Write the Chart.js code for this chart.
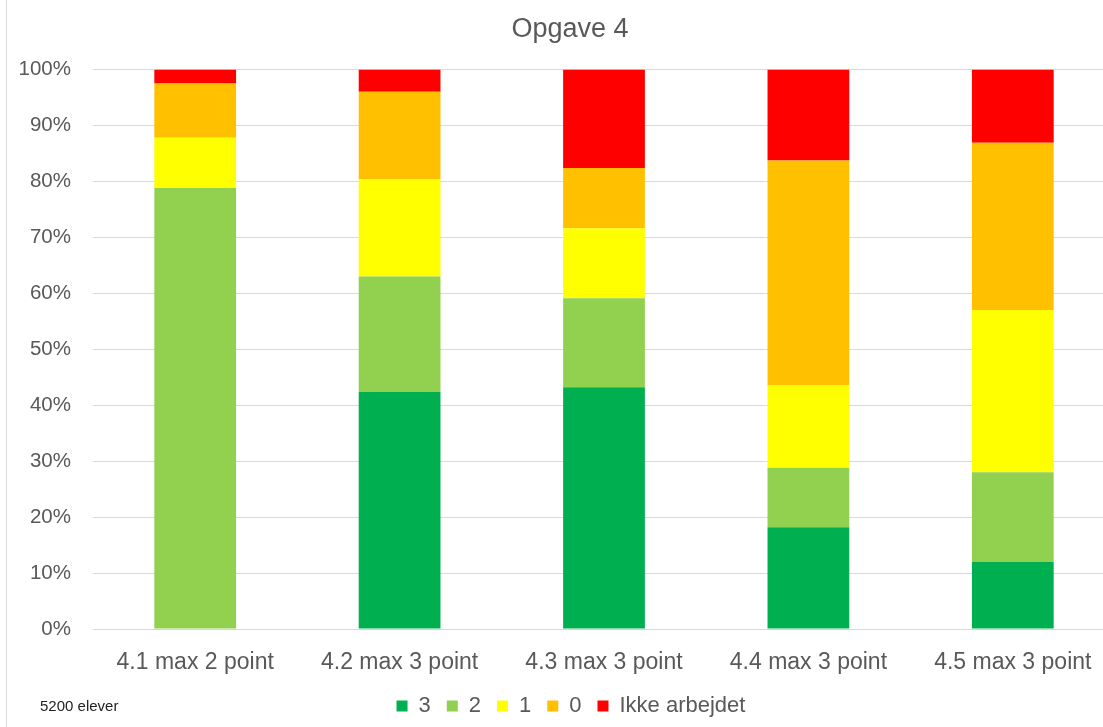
<!DOCTYPE html>
<html>
<head>
<meta charset="utf-8">
<script src="https://cdn.jsdelivr.net/npm/chart.js@4.4.1/dist/chart.umd.min.js"></script>
<style>
  html, body { margin: 0; padding: 0; background: #fff; overflow: hidden; }
  #wrap { position: relative; width: 1103px; height: 727px; overflow: hidden; }
  #frame { position: absolute; left: 6px; top: 0; width: 1px; height: 727px; background: #d9d9d9; }
  #c { position: absolute; left: 0; top: 0; }
  #note { position: absolute; left: 40px; top: 697px; font: 15px "Liberation Sans", sans-serif; color: #222; }
</style>
</head>
<body>
<div id="wrap">
  <div id="frame"></div>
  <canvas id="c" width="1116" height="727"></canvas>
  <div id="note">5200 elever</div>
</div>
<script>
var categories = ['4.1 max 2 point', '4.2 max 3 point', '4.3 max 3 point', '4.4 max 3 point', '4.5 max 3 point'];

var point3 = [0, 42.4, 43.2, 18.2, 12.0];
var point2 = [78.8, 20.6, 15.9, 10.6, 16.0];
var point1 = [9.0, 17.4, 12.5, 14.7, 29.0];
var point0 = [9.7, 15.6, 10.8, 40.2, 29.9];
var ikke = [2.5, 4.0, 17.6, 16.3, 13.1];

var seriesNames = ['3', '2', '1', '0', 'Ikke arbejdet'];
var seriesColors = ['#00B050', '#92D050', '#FFFF00', '#FFC000', '#FF0000'];
var seriesValues = [point3, point2, point1, point0, ikke];

var font = '"Liberation Sans", sans-serif';
var grey = '#595959';

var datasets = seriesNames.map(function (name, i) {
    return {
        label: name,
        data: seriesValues[i],
        backgroundColor: seriesColors[i],
        borderWidth: 0,
        barPercentage: 0.4,
        categoryPercentage: 1
    };
});

// Excel centres title and legend a bit right of the canvas centre
function centreBox(box, cx) {
    var d = cx - (box.left + box.right) / 2;
    box.left += d;
    box.right += d;
}

var boxShift = {
    id: 'boxShift',
    afterLayout: function (chart) {
        centreBox(chart.legend, 571);
        centreBox(chart.titleBlock, 570);
    }
};

var ctx = document.getElementById('c').getContext('2d');

var chart = new Chart(ctx, {
    type: 'bar',
    data: {
        labels: categories,
        datasets: datasets
    },
    plugins: [boxShift],
    options: {
        responsive: false,
        animation: false,
        layout: { padding: { left: 0, right: 1, top: 0, bottom: 0 } },
        plugins: {
            title: {
                display: true,
                text: 'Opgave 4',
                color: grey,
                font: { family: font, size: 27, weight: 'normal' },
                padding: { top: 13, bottom: 24 }
            },
            legend: {
                position: 'bottom',
                labels: {
                    color: grey,
                    font: { family: font, size: 22 },
                    boxWidth: 11,
                    boxHeight: 11,
                    padding: 16
                }
            },
            tooltip: { enabled: false }
        },
        scales: {
            x: {
                stacked: true,
                grid: { display: false },
                border: { display: true, color: '#d9d9d9' },
                ticks: {
                    color: grey,
                    font: { family: font, size: 23 },
                    padding: 12
                },
                afterFit: function (scale) { scale.height = 50; }
            },
            y: {
                stacked: true,
                min: 0,
                max: 100,
                grid: { color: '#d9d9d9', drawTicks: false },
                border: { display: false },
                ticks: {
                    stepSize: 10,
                    color: grey,
                    font: { family: font, size: 20.5 },
                    padding: 22,
                    callback: function (v) { return v + '%'; }
                },
                afterFit: function (scale) { scale.width = 93; }
            }
        }
    }
});
</script>
</body>
</html>
